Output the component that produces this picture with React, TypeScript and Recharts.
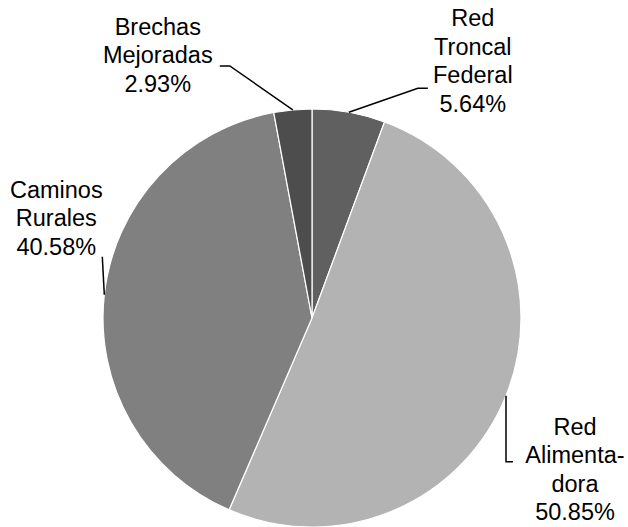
import { PieChart, Pie, Cell } from "recharts";

const categories = [
  "Red Troncal Federal",
  "Red Alimentadora",
  "Caminos Rurales",
  "Brechas Mejoradas",
];
const shares = [5.64, 50.85, 40.58, 2.93];
const labelText = [
  ["Red", "Troncal", "Federal"],
  ["Red", "Alimenta-", "dora"],
  ["Caminos", "Rurales"],
  ["Brechas", "Mejoradas"],
];
const colors = ["#606060", "#b3b3b3", "#808080", "#4d4d4d"];

// label placement relative to the slice edge point (dx, dy)
const labelLayout = [
  { text: [124, -94], path: [[69, -24], [79, -24]] },
  { text: [69, 31], path: [[0, 66], [7, 66]] },
  { text: [-48, -105], path: [[-2, -38]] },
  { text: [-135, -83], path: [[-63, -44], [-73, -44]] },
];

const data = categories.map((name, i) => ({ name, value: shares[i] }));

const RAD = Math.PI / 180;
const LINE_H = 28.5;

function renderLabel(props: any) {
  const { cx, cy, midAngle, outerRadius, index } = props;
  const ex = cx + outerRadius * Math.cos(-midAngle * RAD);
  const ey = cy + outerRadius * Math.sin(-midAngle * RAD);
  const lay = labelLayout[index];
  const pts = [[ex, ey], ...lay.path.map(([dx, dy]) => [ex + dx, ey + dy])];
  const lines = [...labelText[index], shares[index].toFixed(2) + "%"];
  const tx = ex + lay.text[0];
  const ty = ey + lay.text[1];
  return (
    <g key={"lbl" + index}>
      <polyline
        points={pts.map((p) => p.join(",")).join(" ")}
        fill="none"
        stroke="#000"
        strokeWidth={1.5}
      />
      <text
        x={tx}
        y={ty}
        textAnchor="middle"
        fill="#000"
        fontSize={23.5}
        fontFamily="'Liberation Sans', Arial, sans-serif"
      >
        {lines.map((t, i) => (
          <tspan key={i} x={tx} y={ty + i * LINE_H} dominantBaseline="central">
            {t}
          </tspan>
        ))}
      </text>
    </g>
  );
}

export default function App() {
  return (
    <div style={{ position: "absolute", left: 0, top: 0, width: 628, height: 527, background: "#fff" }}>
      <PieChart width={628} height={527} margin={{ top: 0, right: 0, bottom: 0, left: 0 }}>
        <Pie
          data={data}
          dataKey="value"
          nameKey="name"
          cx={312}
          cy={318}
          outerRadius={209}
          startAngle={90}
          endAngle={-270}
          stroke="#ffffff"
          strokeWidth={1.2}
          label={renderLabel}
          labelLine={false}
          isAnimationActive={false}
        >
          {data.map((d, i) => (
            <Cell key={d.name} fill={colors[i]} />
          ))}
        </Pie>
      </PieChart>
    </div>
  );
}
